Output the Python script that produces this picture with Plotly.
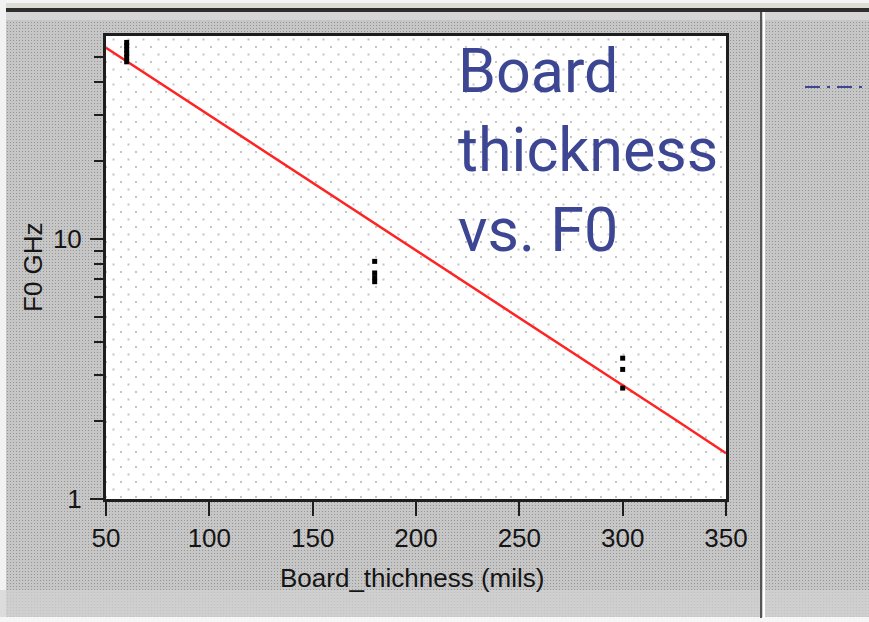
import base64
import math
import plotly.graph_objects as go

# Fitted curve: F0 (GHz) against board thickness (mils)
fit_thickness = [50, 75, 100, 125, 150, 175, 200, 225, 250, 275, 300, 325, 350]
fit_f0 = [54.3, 40.3, 29.9, 22.2, 16.4, 12.2, 9.04, 6.70, 4.97, 3.69, 2.74, 2.03, 1.50]

# Measured resonances
meas_thickness = [60, 60, 60, 60, 60, 60, 180, 180, 180, 180, 300, 300, 300]
meas_f0 = [48.0, 49.8, 51.6, 53.5, 55.4, 57.0, 8.2, 7.4, 7.1, 6.85, 3.48, 3.15, 2.67]

x_ticks = [50, 100, 150, 200, 250, 300, 350]
y_ticks = [1, 10]
y_minor = [2, 3, 4, 5, 6, 7, 8, 9, 20, 30, 40, 50]

W, H = 869, 622
L, R, T, B = 106, 726, 36, 499  # plot-area pixel box
Y_RANGE = [0, 1.7805]           # log10 range of the F0 axis

# Window background: grey dithered panels, white dotted plot pane
svg = f'''<svg xmlns="http://www.w3.org/2000/svg" width="{W}" height="{H}">
<defs>
<pattern id="g" width="3" height="3" patternUnits="userSpaceOnUse">
<rect width="3" height="3" fill="#c6c6c6"/><rect x="1" y="1" width="1" height="1" fill="#969696"/>
</pattern>
<pattern id="d" width="15" height="15" patternUnits="userSpaceOnUse">
<rect x="0" y="1" width="2" height="2" fill="#c4c4c4"/><rect x="7.5" y="8.5" width="2" height="2" fill="#c4c4c4"/>
</pattern>
</defs>
<rect width="{W}" height="{H}" fill="url(#g)"/>
<rect x="0" y="0" width="{W}" height="3" fill="#f4f4f4"/>
<rect x="0" y="3" width="{W}" height="5" fill="#dcdcd4"/>
<rect x="0" y="8" width="{W}" height="4" fill="#2e2e2e"/>
<rect x="0" y="12" width="{W}" height="8" fill="#d6d6d6"/>
<rect x="0" y="0" width="6" height="{H}" fill="#f2f2f2"/>
<rect x="0" y="590" width="{W}" height="28" fill="#d3d3d3" opacity="0.7"/>
<rect x="0" y="617" width="{W}" height="5" fill="#f6f6f6"/>
<rect x="760" y="12" width="2" height="606" fill="#555555"/>
<rect x="763" y="12" width="2" height="606" fill="#ffffff"/>
<line x1="805" y1="87" x2="{W}" y2="87" stroke="#3c4692" stroke-width="2" stroke-dasharray="15,7,3,7"/>
<rect x="{L}" y="{T}" width="{R - L}" height="{B - T}" fill="#ffffff"/>
<rect x="{L}" y="{T}" width="{R - L}" height="{B - T}" fill="url(#d)"/>
</svg>'''
bg_uri = "data:image/svg+xml;base64," + base64.b64encode(svg.encode()).decode()

pw, ph = R - L, B - T

fig = go.Figure()
fig.add_trace(go.Scatter(
    x=fit_thickness, y=fit_f0, mode="lines",
    line=dict(color="#ff2424", width=2.5), showlegend=False,
))
fig.add_trace(go.Scatter(
    x=meas_thickness, y=meas_f0, mode="markers",
    marker=dict(symbol="square", size=5, color="#000000"), showlegend=False,
))

axis_font = dict(family="Liberation Sans, Arial, sans-serif", size=26, color="#151515")


def log_frac(v):
    """Fraction of the plot height at which value v sits on the log axis."""
    return (math.log10(v) - Y_RANGE[0]) / (Y_RANGE[1] - Y_RANGE[0])


# every decade value gets a short tick; only 1 and 10 are labelled
all_y_ticks = sorted(y_ticks + y_minor)
all_y_text = [str(v) if v in y_ticks else "" for v in all_y_ticks]

# longer ticks at the labelled decades
major_ticks = [
    dict(type="line", xref="paper", yref="paper",
         x0=-16 / pw, x1=0, y0=log_frac(v), y1=log_frac(v),
         line=dict(color="#1e1e1e", width=2), layer="above")
    for v in y_ticks
]

fig.update_layout(
    width=W, height=H,
    margin=dict(l=L, r=W - R, t=T, b=H - B, pad=0),
    paper_bgcolor="rgba(0,0,0,0)",
    plot_bgcolor="rgba(0,0,0,0)",
    images=[dict(
        source=bg_uri, xref="paper", yref="paper",
        x=-L / pw, y=1 + T / ph, sizex=W / pw, sizey=H / ph,
        xanchor="left", yanchor="top", sizing="stretch", layer="below",
    )],
    shapes=major_ticks,
    xaxis=dict(
        range=[50, 350], tickvals=x_ticks, ticktext=[str(v) for v in x_ticks],
        ticks="outside", ticklen=14, tickwidth=2, tickcolor="#1e1e1e",
        showline=True, linecolor="#1e1e1e", linewidth=3, mirror=True,
        showgrid=False, zeroline=False, tickfont=axis_font,
    ),
    yaxis=dict(
        type="log", range=Y_RANGE, tickvals=all_y_ticks, ticktext=all_y_text,
        ticks="outside", ticklen=9, tickwidth=2, tickcolor="#1e1e1e",
        ticklabelstandoff=7,
        showline=True, linecolor="#1e1e1e", linewidth=3, mirror=True,
        showgrid=False, zeroline=False, tickfont=axis_font,
    ),
    annotations=[
        dict(text="F0 GHz", xref="paper", yref="paper",
             x=(33 - L) / pw, y=(B - 267) / ph, textangle=-90,
             showarrow=False, font=axis_font, xanchor="center", yanchor="middle"),
        dict(text="Board_thichness (mils)", xref="paper", yref="paper",
             x=(412 - L) / pw, y=(B - 578) / ph,
             showarrow=False, font=axis_font, xanchor="center", yanchor="middle"),
        dict(text="Board<br>thickness<br>vs. F0", xref="paper", yref="paper",
             x=(456 - L) / pw, y=(B - 150) / ph, align="left",
             showarrow=False, xanchor="left", yanchor="middle",
             font=dict(family="Roboto, sans-serif", size=61, color="#3c4692")),
    ],
)

fig.write_html("out.html")
